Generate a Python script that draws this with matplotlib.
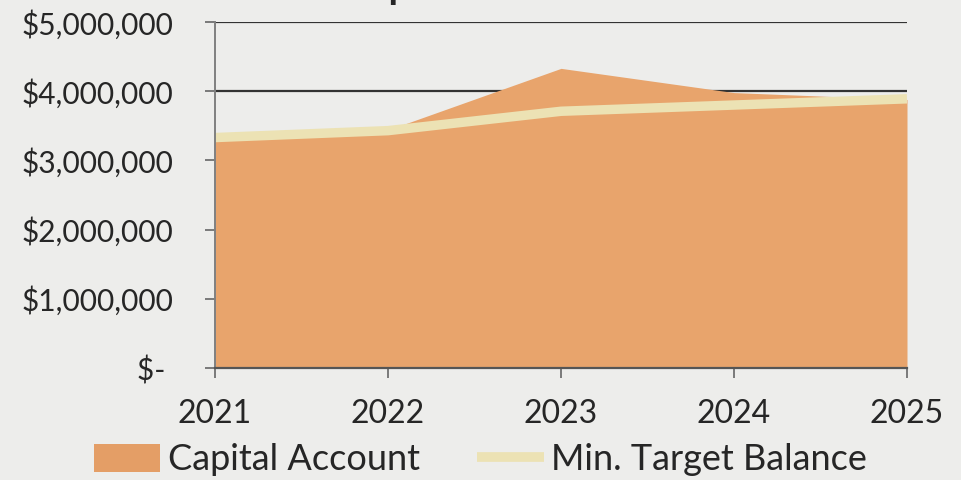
import matplotlib
matplotlib.use("Agg")
import matplotlib.pyplot as plt
from matplotlib.ticker import FuncFormatter
from matplotlib.patches import Patch
from matplotlib.lines import Line2D

years = [2021, 2022, 2023, 2024, 2025]
capital_account = [3300000, 3440000, 4330000, 3980000, 3880000]
min_target = [3330000, 3430000, 3710000, 3800000, 3890000]

y_ticks = [0, 1000000, 2000000, 3000000, 4000000, 5000000]

bg = "#EDEDEB"
orange = "#E8A46C"
pale = "#ECE2B4"
ink = "#262626"

plt.rcParams["font.family"] = ["Lato", "DejaVu Sans"]

fig = plt.figure(figsize=(9.61, 4.80), dpi=100, facecolor=bg)
ax = fig.add_axes([215 / 961, 1 - 368 / 480, 692 / 961, 346 / 480])
ax.set_facecolor(bg)

# horizontal gridlines sit behind the filled area
for v in y_ticks[1:]:
    ax.axhline(v, color="#333333", lw=1.6, zorder=0)

ax.fill_between(years, capital_account, 0, color=orange, lw=0, zorder=1)
ax.plot(years, min_target, color=pale, lw=6.8, solid_capstyle="butt", zorder=2)

ax.set_xlim(2021, 2025)
ax.set_ylim(0, 5000000)
ax.set_xticks(years)
ax.set_yticks(y_ticks)


def money(v, pos):
    if v == 0:
        return "$- "
    return "${:,.0f}".format(v)


ax.yaxis.set_major_formatter(FuncFormatter(money))

for side in ["top", "right"]:
    ax.spines[side].set_visible(False)
ax.spines["left"].set_color("#808080")
ax.spines["left"].set_linewidth(1.4)
ax.spines["bottom"].set_color("#555555")
ax.spines["bottom"].set_linewidth(1.6)
ax.spines["left"].set_zorder(3)
ax.spines["bottom"].set_zorder(3)

ax.tick_params(axis="y", direction="out", length=7, width=1.2, color="#666666",
               labelsize=21.5, labelcolor=ink, pad=23)
ax.tick_params(axis="x", direction="out", length=7, width=1.2, color="#666666",
               labelsize=23, labelcolor=ink, pad=15)

# title line above the chart (mostly outside the figure)
fig.text(343 / 961, 1 + 1 / 480, "Capital Account", fontsize=28, fontweight="bold",
         color=ink, ha="left", va="baseline")

handles = [
    Patch(facecolor="#E49E66", edgecolor="none", label="Capital Account"),
    Line2D([0], [0], color=pale, lw=7, solid_capstyle="butt", label="Min. Target Balance"),
]
fig.legend(handles=handles, loc="center", bbox_to_anchor=(0.5, 20 / 480), ncol=2,
           frameon=False, fontsize=26, handlelength=1.85, handleheight=0.85,
           handletextpad=0.2, columnspacing=1.6, labelcolor=ink)

fig.savefig("out.png", dpi=100, facecolor=bg)
